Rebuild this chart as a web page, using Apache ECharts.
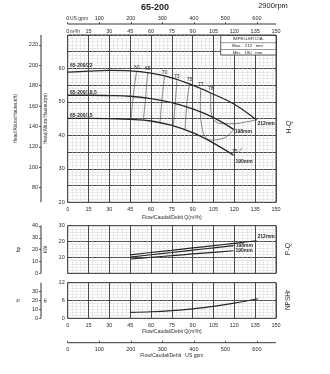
<!DOCTYPE html>
<html>
<head>
<meta charset="utf-8">
<script src="https://cdn.jsdelivr.net/npm/echarts@6/dist/echarts.min.js"></script>
<style>
  html, body { margin: 0; padding: 0; background: #fff; }
  #chart { width: 330px; height: 374px; }
</style>
</head>
<body>
<div id="chart"></div>
<script>
// Pump 65-200, 2900 rpm: H-Q, P-Q and NPSHr curves for three impeller diameters.

// Head curves (Q in m³/h, H in m)
const headQ212 = [0, 15, 30, 45, 60, 75, 90, 105, 120, 136];
const headH212 = [58.9, 59.2, 59.4, 59.3, 58.6, 57.2, 55.0, 52.3, 49.3, 44.6];
const headQ198 = [0, 15, 30, 45, 60, 75, 90, 105, 119.5];
const headH198 = [52.0, 52.0, 51.9, 51.7, 51.0, 49.8, 47.9, 45.3, 41.8];
const headQ190 = [0, 15, 30, 45, 60, 75, 90, 105, 119.4];
const headH190 = [45.1, 45.1, 45.0, 44.8, 44.3, 43.0, 40.8, 37.7, 34.1];

// Iso-efficiency lines (%), each as flow / head pairs
const eta60Q = [49.7, 48.3, 47.2, 46.3, 45.6];
const eta60H = [59.2, 55.5, 51.7, 48.0, 44.8];
const eta65Q = [57.7, 56.8, 56.1, 55.3, 54.5];
const eta65H = [58.7, 55.0, 51.1, 47.8, 44.5];
const eta70Q = [69.7, 68.7, 67.8, 67.1, 66.5];
const eta70H = [57.5, 54.0, 50.3, 47.0, 44.0];
const eta73Q = [78.6, 78.0, 77.4, 76.7, 76.1];
const eta73H = [56.4, 53.0, 49.5, 46.0, 43.2];
const eta75Q = [87.7, 86.5, 85.6, 85.0, 84.6];
const eta75H = [55.4, 52.0, 48.3, 45.0, 41.8];
const eta77Q = [95.9, 95.5, 95.6, 96.5, 98.5, 103, 110, 116, 119.5];
const eta77H = [53.9, 50.0, 46.5, 43.0, 40.0, 38.6, 38.9, 40.2, 41.8];
const eta78Q = [103, 103, 103.6, 106, 112, 120, 128, 136];
const eta78H = [52.7, 49.5, 46.3, 44.3, 43.5, 43.5, 44.0, 44.6];
const eta75bQ = [123.4, 125.6];
const eta75bH = [35.1, 36.3];

// Shaft power (kW)
const powerQ212 = [45, 60, 75, 90, 105, 120, 136];
const powerP212 = [11.6, 13.1, 14.5, 16.0, 17.4, 18.9, 20.5];
const powerQ198 = [45, 60, 75, 90, 105, 119.5];
const powerP198 = [10.2, 11.7, 13.1, 14.6, 16.0, 17.4];
const powerQ190 = [45, 60, 75, 90, 105, 119.4];
const powerP190 = [9.0, 10.1, 11.1, 12.2, 13.2, 14.2];

// NPSH required (m)
const npshQ = [45, 60, 75, 90, 105, 120, 137];
const npshM = [2.0, 2.2, 2.6, 3.2, 4.0, 5.1, 6.6];

// Tick values
const gpmTicks = [0, 100, 200, 300, 400, 500, 600];
const headFtTicks = [80, 100, 120, 140, 160, 180, 200, 220];
const powerHpTicks = [0, 10, 20, 30, 40];
const npshFtTicks = [0, 10, 20, 30];

const M_TO_FT = 3.28084;
const KW_TO_HP = 1.34102;
const M3H_TO_GPM = 4.40287;

const pairs = (xs, ys) => xs.map((x, i) => [x, ys[i]]);

const FONT = "'Liberation Sans Narrow', 'Liberation Sans', sans-serif";
const INK = '#2b2b2b';
const MAJOR = { show: true, lineStyle: { color: '#4a4a4a', width: 1 } };
const MINOR = { show: true, lineStyle: { color: '#d6d6d6', width: 0.5 } };
const small = { fontSize: 5.5, color: INK, fontFamily: FONT };

// plot frame geometry (px)
const L = 67.7, W = 208.3, R = L + W;
const G0 = { top: 35, h: 167.3 }, G1 = { top: 225.7, h: 47.6 }, G2 = { top: 282.7, h: 35.6 };
const OUT_OFF = 26.7, TOP_OFF = 11, BOT_OFF = 24.4;

function flowAxis(grid, showLabels, extra) {
  return Object.assign({
    type: 'value', gridIndex: grid, min: 0, max: 150, interval: 15,
    axisLine: { show: false, onZero: false }, axisTick: { show: false },
    axisLabel: Object.assign({ show: showLabels, margin: 4.5 }, small),
    splitLine: MAJOR,
    minorTick: { show: false, splitNumber: 5 },
    minorSplitLine: MINOR
  }, extra || {});
}

function outerAxisStyle(ticks) {
  return {
    axisLine: { show: false, onZero: false },
    axisTick: { show: true, length: 2, customValues: ticks, lineStyle: { color: '#333', width: 0.8 } },
    axisLabel: Object.assign({ margin: 3, customValues: ticks }, small),
    splitLine: { show: false }
  };
}

function curve(name, data, xi, yi, width, color, extra) {
  return Object.assign({
    type: 'line', name: name, xAxisIndex: xi, yAxisIndex: yi,
    data: data, smooth: 0.4, showSymbol: false, symbol: 'none',
    lineStyle: { color: color, width: width }, z: 5, silent: true,
    animation: false
  }, extra || {});
}

function etaLine(label, qs, hs, pos) {
  const data = pairs(qs, hs).map((p, i) => i === 0 ? {
    value: p,
    label: { show: true, position: pos || 'top', distance: 1.5, formatter: label,
             fontSize: 5, color: INK, fontFamily: FONT }
  } : p);
  return curve('η' + label, data, 0, 0, 0.7, '#555', {
    smooth: 0.5, z: 4, symbol: 'circle', symbolSize: 0.01, showSymbol: true,
    itemStyle: { color: 'transparent' }
  });
}

function endLabel(text, offset) {
  return {
    show: true, formatter: text, offset: offset, distance: 1,
    fontSize: 5, fontWeight: 'bold', color: INK, fontFamily: FONT
  };
}

function rule(x1, y1, x2, y2) {
  return { type: 'line', z: 50, silent: true, shape: { x1, y1, x2, y2 },
           style: { stroke: '#333', lineWidth: 1 } };
}

const chart = echarts.init(document.getElementById('chart'), null, { renderer: 'canvas' });

chart.setOption({
  animation: false,
  backgroundColor: '#fff',
  grid: [
    { left: L, top: G0.top, width: W, height: G0.h, show: true, borderColor: '#333', borderWidth: 1 },
    { left: L, top: G1.top, width: W, height: G1.h, show: true, borderColor: '#333', borderWidth: 1 },
    { left: L, top: G2.top, width: W, height: G2.h, show: true, borderColor: '#333', borderWidth: 1 }
  ],
  xAxis: [
    flowAxis(0, true, {
      name: 'Flow/Caudal/Debit Q(m³/h)', nameLocation: 'middle', nameGap: 13,
      nameTextStyle: { fontSize: 5, color: INK, fontFamily: FONT }
    }),
    flowAxis(0, true, {
      position: 'top', splitLine: { show: false }, minorSplitLine: { show: false },
      axisLabel: Object.assign({ show: true, margin: 1 }, small)
    }),
    Object.assign({
      type: 'value', gridIndex: 0, position: 'top', offset: TOP_OFF,
      min: 0, max: 150 * M3H_TO_GPM
    }, outerAxisStyle(gpmTicks), {
      axisLabel: Object.assign({ margin: 2.3, customValues: gpmTicks }, small)
    }),
    flowAxis(1, false),
    flowAxis(2, true, {
      name: 'Flow/Caudal/Debit Q(m³/h)', nameLocation: 'middle', nameGap: 11,
      axisLabel: Object.assign({ show: true, margin: 4 }, small),
      nameTextStyle: { fontSize: 5, color: INK, fontFamily: FONT }
    }),
    Object.assign({
      type: 'value', gridIndex: 2, position: 'bottom', offset: BOT_OFF,
      min: 0, max: 150 * M3H_TO_GPM,
      name: 'Flow/Caudal/Debit   US gpm', nameLocation: 'middle', nameGap: 9.8,
      nameTextStyle: { fontSize: 5, color: INK, fontFamily: FONT }
    }, outerAxisStyle(gpmTicks), {
      axisTick: { show: true, length: 2, inside: true, customValues: gpmTicks, lineStyle: { color: '#333', width: 0.8 } },
      axisLabel: Object.assign({ margin: 3.6, customValues: gpmTicks }, small)
    })
  ],
  yAxis: [
    // Head (m)
    {
      type: 'value', gridIndex: 0, min: 20, max: 70, interval: 5,
      axisLine: { show: false, onZero: false }, axisTick: { show: false },
      axisLabel: Object.assign({ margin: 3,
        formatter: v => (v % 10 === 0 && v < 70) ? String(v) : '' }, small),
      splitLine: MAJOR, minorTick: { show: false, splitNumber: 5 }, minorSplitLine: MINOR,
      name: 'Head/Altura/Hauteur(m)', nameLocation: 'middle', nameGap: 13, nameRotate: 90,
      nameTextStyle: { fontSize: 4.8, color: INK, fontFamily: FONT }
    },
    // Head (ft)
    Object.assign({
      type: 'value', gridIndex: 0, position: 'left', offset: OUT_OFF,
      min: 20 * M_TO_FT, max: 70 * M_TO_FT,
      name: 'Head/Altura/Hauteur(ft)', nameLocation: 'middle', nameGap: 13, nameRotate: 90,
      nameTextStyle: { fontSize: 4.8, color: INK, fontFamily: FONT }
    }, outerAxisStyle(headFtTicks)),
    // Power (kW)
    {
      type: 'value', gridIndex: 1, min: 0, max: 30, interval: 10,
      axisLine: { show: false, onZero: false }, axisTick: { show: false },
      axisLabel: Object.assign({ margin: 3, showMinLabel: false }, small),
      splitLine: MAJOR, minorTick: { show: false, splitNumber: 5 }, minorSplitLine: MINOR,
      name: 'kW', nameLocation: 'middle', nameGap: 13, nameRotate: 90,
      nameTextStyle: { fontSize: 5, color: INK, fontFamily: FONT }
    },
    // Power (hp)
    Object.assign({
      type: 'value', gridIndex: 1, position: 'left', offset: OUT_OFF,
      min: 0, max: 30 * KW_TO_HP,
      name: 'hp', nameLocation: 'middle', nameGap: 12, nameRotate: 90,
      nameTextStyle: { fontSize: 5, color: INK, fontFamily: FONT }
    }, outerAxisStyle(powerHpTicks)),
    // NPSHr (m)
    {
      type: 'value', gridIndex: 2, min: 0, max: 12, interval: 6,
      axisLine: { show: false, onZero: false }, axisTick: { show: false },
      axisLabel: Object.assign({ margin: 3 }, small),
      splitLine: MAJOR, minorTick: { show: false, splitNumber: 6 }, minorSplitLine: MINOR,
      name: 'm', nameLocation: 'middle', nameGap: 13, nameRotate: 90,
      nameTextStyle: { fontSize: 5, color: INK, fontFamily: FONT }
    },
    // NPSHr (ft)
    Object.assign({
      type: 'value', gridIndex: 2, position: 'left', offset: OUT_OFF,
      min: 0, max: 12 * M_TO_FT,
      name: 'ft', nameLocation: 'middle', nameGap: 12, nameRotate: 90,
      nameTextStyle: { fontSize: 5, color: INK, fontFamily: FONT }
    }, outerAxisStyle(npshFtTicks))
  ],
  series: [
    curve('H 212', pairs(headQ212, headH212), 0, 0, 1.3, '#262626',
      { endLabel: endLabel('212mm', [0, 4]) }),
    curve('H 198', pairs(headQ198, headH198), 0, 0, 1.3, '#262626',
      { endLabel: endLabel('198mm', [0, 2]) }),
    curve('H 190', pairs(headQ190, headH190), 0, 0, 1.3, '#262626',
      { endLabel: endLabel('190mm', [1, 7]) }),
    etaLine('60', eta60Q, eta60H),
    etaLine('65', eta65Q, eta65H),
    etaLine('70', eta70Q, eta70H),
    etaLine('73', eta73Q, eta73H),
    etaLine('75', eta75Q, eta75H),
    etaLine('77', eta77Q, eta77H),
    etaLine('78', eta78Q, eta78H),
    etaLine('75', eta75bQ, eta75bH, 'left'),
    curve('P 212', pairs(powerQ212, powerP212), 3, 2, 1.2, '#262626',
      { endLabel: endLabel('212mm', [0, -4]) }),
    curve('P 198', pairs(powerQ198, powerP198), 3, 2, 1.2, '#262626',
      { endLabel: endLabel('198mm', [1, 0]) }),
    curve('P 190', pairs(powerQ190, powerP190), 3, 2, 1.2, '#262626',
      { endLabel: endLabel('190mm', [1, 0]) }),
    curve('NPSHr', pairs(npshQ, npshM), 4, 4, 1.2, '#262626')
  ],
  graphic: [
    // secondary unit scale rules
    rule(L - OUT_OFF, G0.top, L - OUT_OFF, G0.top + G0.h),
    rule(L - OUT_OFF, G1.top, L - OUT_OFF, G1.top + G1.h),
    rule(L - OUT_OFF, G2.top, L - OUT_OFF, G2.top + G2.h),
    rule(L, G0.top - TOP_OFF, R, G0.top - TOP_OFF),
    rule(L, G2.top + G2.h + BOT_OFF, R, G2.top + G2.h + BOT_OFF),
    { type: 'text', x: 155, y: 8, z: 100,
      style: { text: '65-200', align: 'center', verticalAlign: 'middle',
               font: "bold 9px 'Liberation Sans', sans-serif", fill: '#222' } },
    { type: 'text', x: 273, y: 6, z: 100,
      style: { text: '2900rpm', align: 'center', verticalAlign: 'middle',
               font: "7.5px 'Liberation Sans', sans-serif", fill: '#222' } },
    { type: 'text', x: 70, y: 19, z: 100,
      style: { text: 'US gpm', align: 'left', verticalAlign: 'middle',
               font: "5px " + FONT, fill: INK } },
    { type: 'text', x: 70, y: 32, z: 100,
      style: { text: 'm³/h', align: 'left', verticalAlign: 'middle',
               font: "5px " + FONT, fill: INK } },
    // model labels on head curves
    { type: 'text', x: 70, y: 66, z: 100,
      style: { text: '65-200/22', verticalAlign: 'middle', font: "bold 5px " + FONT, fill: INK } },
    { type: 'text', x: 70, y: 92.3, z: 100,
      style: { text: '65-200/18,5', verticalAlign: 'middle', font: "bold 5px " + FONT, fill: INK } },
    { type: 'text', x: 70, y: 115.3, z: 100,
      style: { text: '65-200/15', verticalAlign: 'middle', font: "bold 5px " + FONT, fill: INK } },
    // impeller diameter box
    { type: 'rect', z: 100, shape: { x: 220.7, y: 35.5, width: 55.3, height: 19.5 },
      style: { fill: '#fff', stroke: '#333', lineWidth: 0.8 } },
    { type: 'line', z: 101, shape: { x1: 220.7, y1: 42.7, x2: 276, y2: 42.7 },
      style: { stroke: '#333', lineWidth: 0.5 } },
    { type: 'line', z: 101, shape: { x1: 220.7, y1: 49.5, x2: 276, y2: 49.5 },
      style: { stroke: '#333', lineWidth: 0.5 } },
    { type: 'text', x: 248.3, y: 39.2, z: 102,
      style: { text: 'IMPELLER DIA.', align: 'center', verticalAlign: 'middle',
               font: "4.3px " + FONT, fill: INK } },
    { type: 'text', x: 247.5, y: 46.2, z: 102,
      style: { text: 'Max.   212   mm', align: 'center', verticalAlign: 'middle',
               font: "4.3px " + FONT, fill: INK } },
    { type: 'text', x: 247.5, y: 52.4, z: 102,
      style: { text: 'Min.   190   mm', align: 'center', verticalAlign: 'middle',
               font: "4.3px " + FONT, fill: INK } },
    // panel captions
    { type: 'text', x: 289, y: 127, rotation: Math.PI / 2, z: 100,
      style: { text: 'H-Q', align: 'center', verticalAlign: 'middle',
               font: "7px 'Liberation Sans', sans-serif", fill: '#333' } },
    { type: 'text', x: 288, y: 249, rotation: Math.PI / 2, z: 100,
      style: { text: 'P-Q', align: 'center', verticalAlign: 'middle',
               font: "7px 'Liberation Sans', sans-serif", fill: '#333' } },
    { type: 'text', x: 288, y: 300, rotation: Math.PI / 2, z: 100,
      style: { text: 'NPSHr', align: 'center', verticalAlign: 'middle',
               font: "6.5px 'Liberation Sans', sans-serif", fill: '#333' } }
  ]
});
</script>
</body>
</html>
